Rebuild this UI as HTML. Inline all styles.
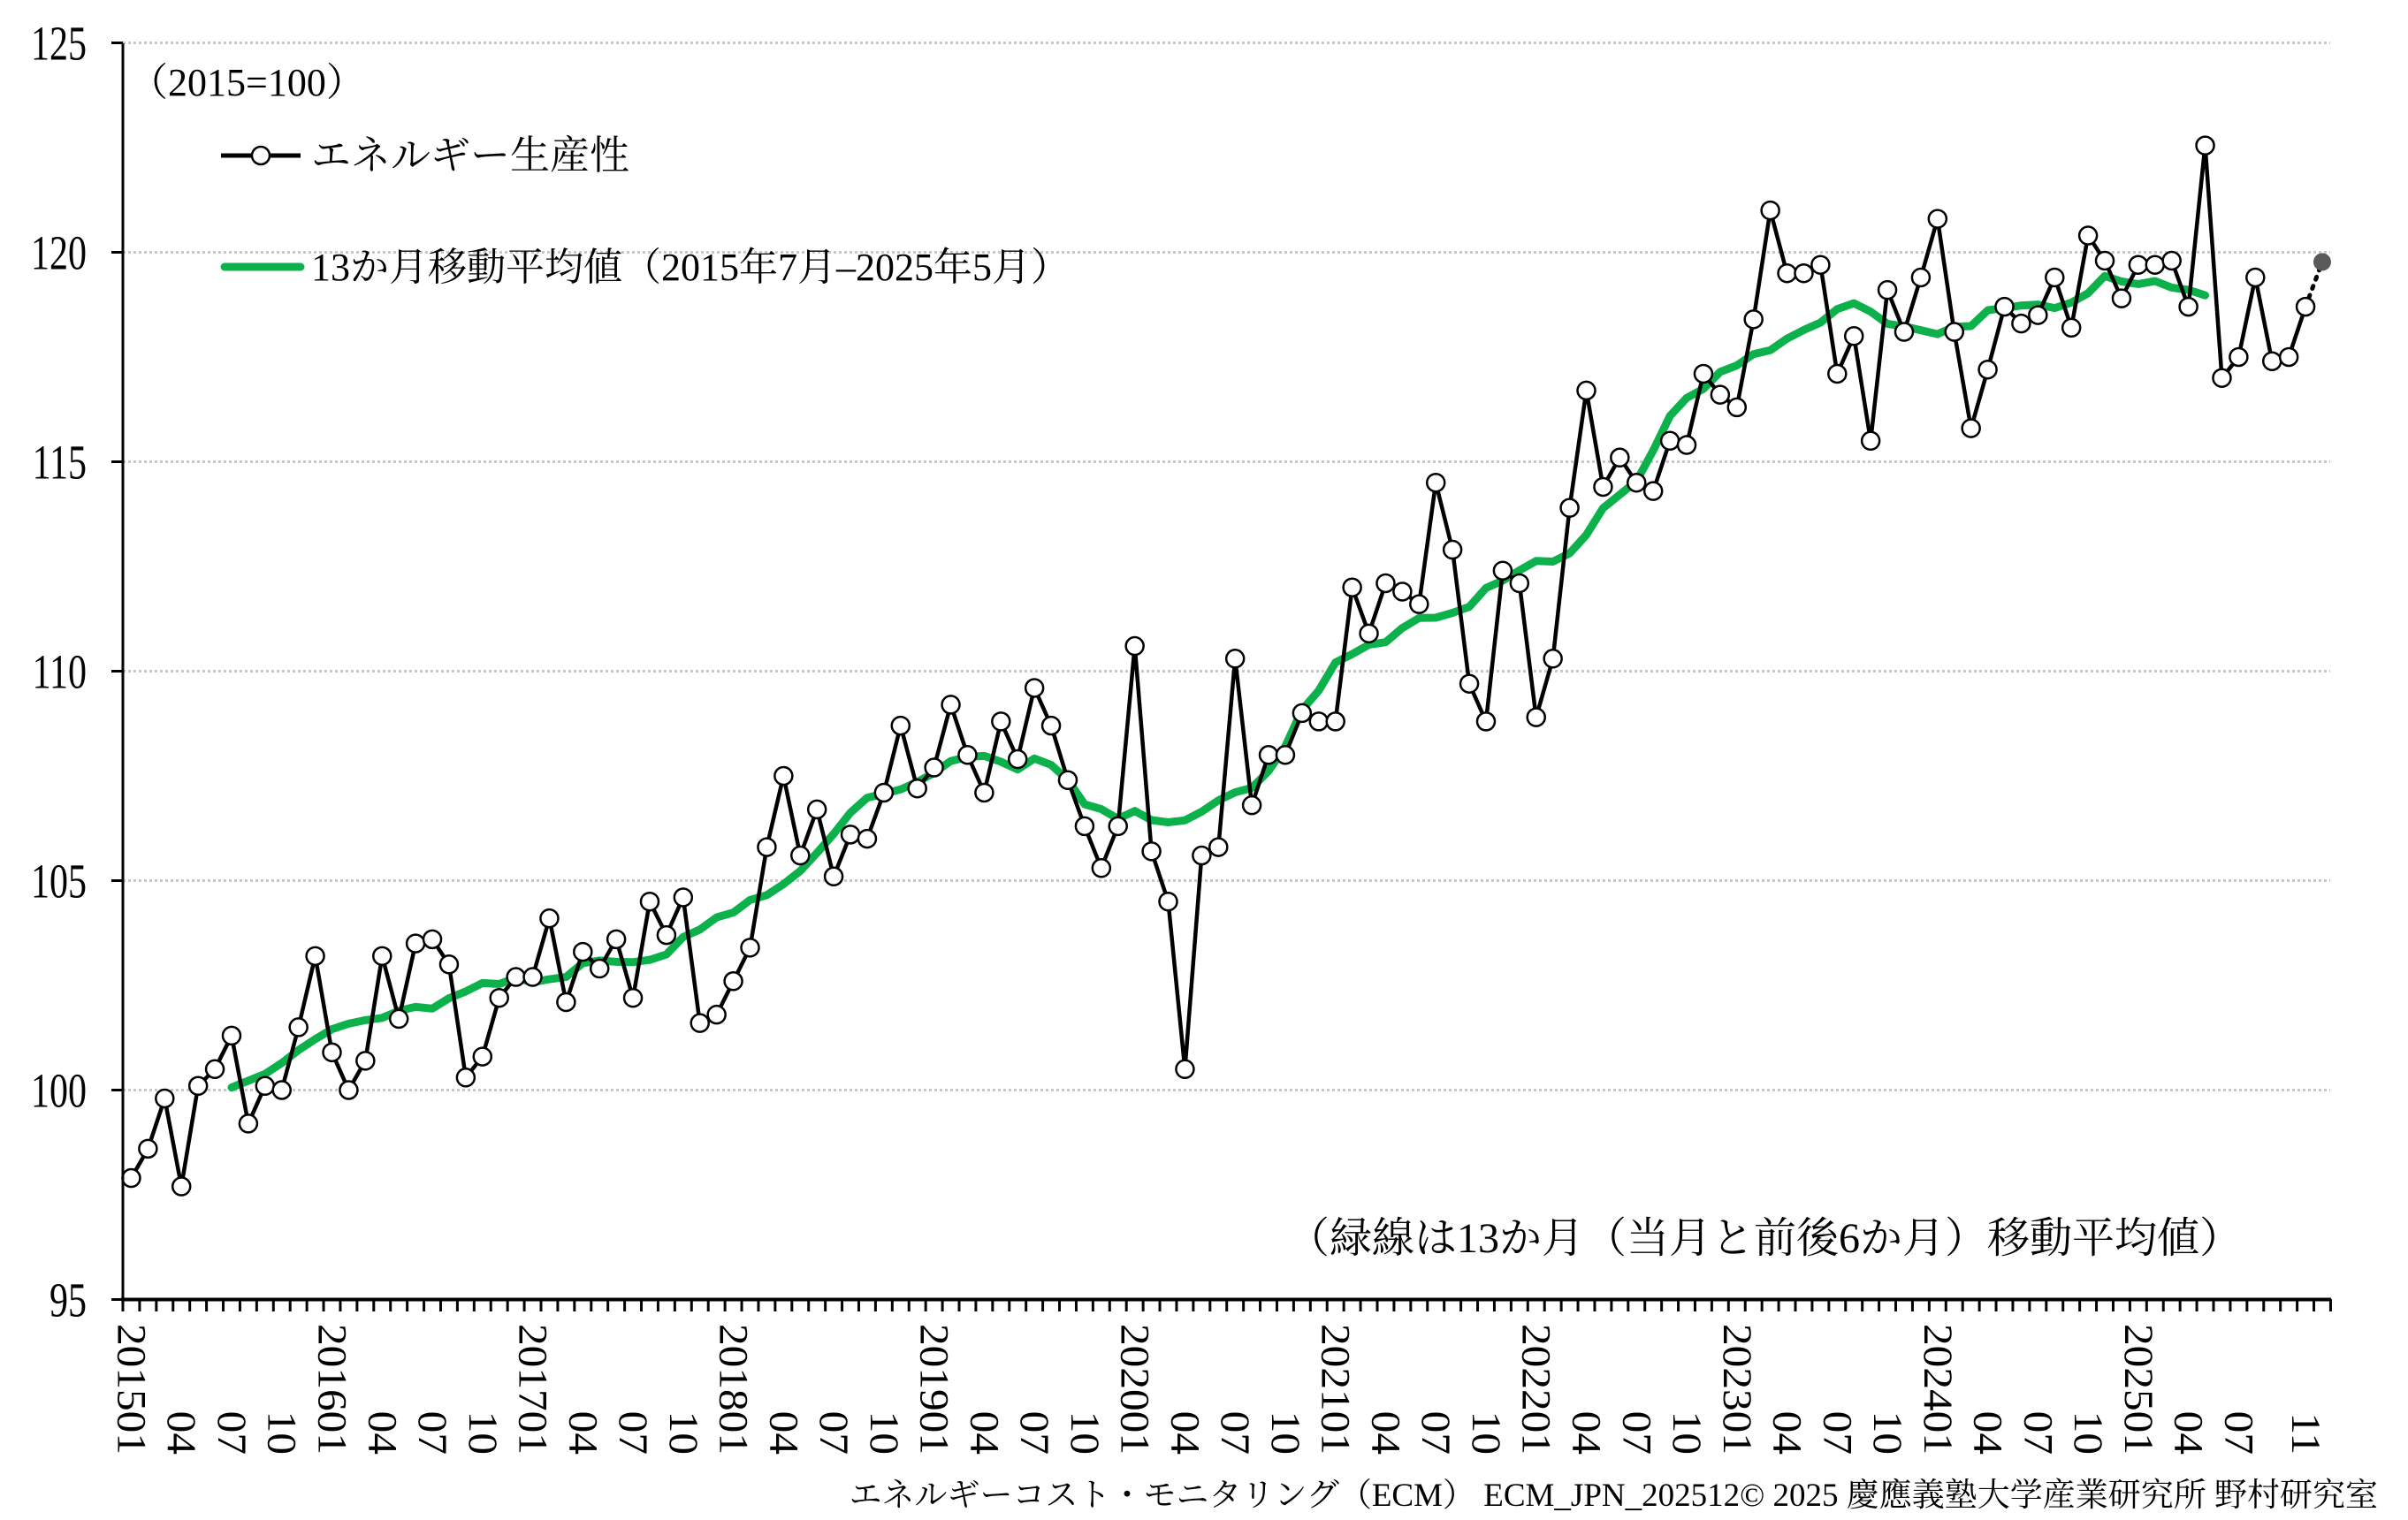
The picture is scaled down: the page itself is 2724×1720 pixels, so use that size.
<!DOCTYPE html>
<html><head><meta charset="utf-8">
<style>
html,body{margin:0;padding:0;background:#fff;}
svg{display:block;}
text{font-family:"Liberation Serif","Noto Serif CJK SC","Noto Sans CJK JP",serif;fill:#000;}
</style></head>
<body>
<svg id="c" width="2724" height="1720" viewBox="0 0 2724 1720" xmlns="http://www.w3.org/2000/svg">
<g id="grid"></g>
<g id="ma"></g>
<g id="ser"></g>
<g id="axes"></g>
<text x="146" y="108" font-size="44">（2015=100）</text>
<line x1="250" y1="176" x2="340" y2="176" stroke="#000" stroke-width="5"/>
<circle cx="295" cy="176" r="10" fill="#fff" stroke="#000" stroke-width="2.5"/>
<text x="352" y="191" font-size="45">エネルギー生産性</text>
<line x1="254" y1="302" x2="340" y2="302" stroke="#0db14b" stroke-width="9" stroke-linecap="round"/>
<text x="352" y="317" font-size="44">13か月移動平均値（2015年7月–2025年5月）</text>
<text x="2536" y="1417" font-size="48" text-anchor="end">（緑線は13か月（当月と前後6か月）移動平均値）</text>
<text x="2690" y="1704" font-size="37" text-anchor="end">エネルギーコスト・モニタリング（ECM） ECM_JPN_202512© 2025 慶應義塾大学産業研究所 野村研究室</text>
</svg>
<script>
var d=[97.9,98.6,99.8,97.7,100.1,100.5,101.3,99.2,100.1,100.0,101.5,103.2,
100.9,100.0,100.7,103.2,101.7,103.5,103.6,103.0,100.3,100.8,102.2,102.7,
102.7,104.1,102.1,103.3,102.9,103.6,102.2,104.5,103.7,104.6,101.6,101.8,
102.6,103.4,105.8,107.5,105.6,106.7,105.1,106.1,106.0,107.1,108.7,107.2,
107.7,109.2,108.0,107.1,108.8,107.9,109.6,108.7,107.4,106.3,105.3,106.3,
110.6,105.7,104.5,100.5,105.6,105.8,110.3,106.8,108.0,108.0,109.0,108.8,
108.8,112.0,110.9,112.1,111.9,111.6,114.5,112.9,109.7,108.8,112.4,112.1,
108.9,110.3,113.9,116.7,114.4,115.1,114.5,114.3,115.5,115.4,117.1,116.6,
116.3,118.4,121.0,119.5,119.5,119.7,117.1,118.0,115.5,119.1,118.1,119.4,
120.8,118.1,115.8,117.2,118.7,118.3,118.5,119.4,118.2,120.4,119.8,118.9,
119.7,119.7,119.8,118.7,122.55,117.0,117.5,119.4,117.4,117.5,118.7,119.77];
var NS="http://www.w3.org/2000/svg";
function X(i){return 139+18.92*(i+0.5);}
function Y(v){return 1470.5-(v-95)*47.4;}
function el(p,t,a,txt){var e=document.createElementNS(NS,t);for(var k in a)e.setAttribute(k,a[k]);if(txt!==undefined)e.textContent=txt;document.getElementById(p).appendChild(e);return e;}
for(var v=100;v<=125;v+=5){el('grid','line',{x1:139,y1:Y(v),x2:2636,y2:Y(v),stroke:'#c8c8c8','stroke-width':3,'stroke-dasharray':'3,3'});}
for(var v=95;v<=125;v+=5){el('axes','line',{x1:126,y1:Y(v),x2:139,y2:Y(v),stroke:'#000','stroke-width':3});
el('axes','text',{x:0,y:0,'font-size':42,'text-anchor':'end',transform:'translate(98,'+(Y(v)+19)+') scale(1,1.3)'},String(v));}
el('axes','line',{x1:139,y1:49,x2:139,y2:1472,stroke:'#000','stroke-width':3});
el('axes','line',{x1:137,y1:1470.5,x2:2637,y2:1470.5,stroke:'#000','stroke-width':4});
for(var i=0;i<=132;i++){var x=139+18.92*i;el('axes','line',{x1:x,y1:1470,x2:x,y2:1484,stroke:'#000','stroke-width':3});}
for(var i=0;i<132;i++){var m=i%12,y=2015+Math.floor(i/12),lab=null;
if(m==0)lab=y+'01';else if(m==3)lab='04';else if(m==6)lab='07';else if(m==9&&i<129)lab='10';
if(i==130)lab='11';
if(lab){var x=X(i);
el('axes','text',{x:0,y:0,'font-size':47,'text-anchor':'end',transform:'translate('+(x-15)+',1646) rotate(90) scale(1.05,1)'},lab);}}
var pts=[];for(var i=6;i<=124;i++){var s=0;for(var k=i-6;k<=i+6;k++)s+=d[k];pts.push(X(i).toFixed(1)+','+Y(s/13).toFixed(1));}
el('ma','polyline',{points:pts.join(' '),fill:'none',stroke:'#0db14b','stroke-width':9,'stroke-linejoin':'round','stroke-linecap':'round'});
var p=[];for(var i=0;i<131;i++)p.push(X(i).toFixed(1)+','+Y(d[i]).toFixed(1));
el('ser','polyline',{points:p.join(' '),fill:'none',stroke:'#000','stroke-width':4.5,'stroke-linejoin':'miter'});
el('ser','line',{x1:X(130),y1:Y(d[130]),x2:X(131),y2:Y(d[131]),stroke:'#000','stroke-width':5,'stroke-dasharray':'3,8','stroke-linecap':'round'});
for(var i=0;i<131;i++)el('ser','circle',{cx:X(i),cy:Y(d[i]),r:10,fill:'#fff',stroke:'#000','stroke-width':2.5});
el('ser','circle',{cx:X(131),cy:Y(d[131]),r:10,fill:'#595959'});
</script>
</body></html>
